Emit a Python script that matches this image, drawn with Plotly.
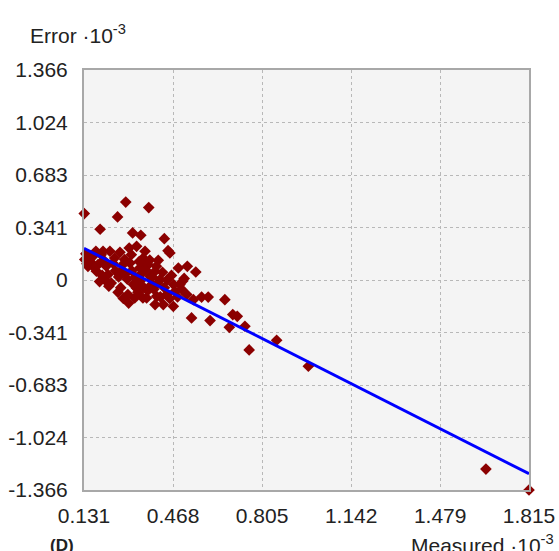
import plotly.graph_objects as go

# Measured values (x1e-3) and their errors (x1e-3)
measured = [
    0.132, 0.289, 0.376, 0.258, 0.192, 0.315, 0.346, 0.435, 0.330, 0.449,
    0.302, 0.412, 0.488, 0.522, 0.554, 0.504, 0.576, 0.601, 0.664, 0.538,
    0.608, 0.694, 0.711, 0.681, 0.740, 0.756, 0.860, 0.980, 1.652, 1.815,
    0.134, 0.146, 0.178, 0.184, 0.222, 0.234, 0.215, 0.272, 0.297, 0.329,
    0.323, 0.354, 0.342, 0.361, 0.247, 0.285, 0.310, 0.196, 0.165, 0.355,
    0.374, 0.400, 0.419, 0.456, 0.494, 0.475, 0.444, 0.387, 0.368, 0.406,
    0.520, 0.545, 0.431, 0.469, 0.400, 0.343, 0.381, 0.176, 0.203, 0.229,
    0.267, 0.362, 0.150, 0.160, 0.205, 0.215, 0.240, 0.250, 0.262, 0.275,
    0.288, 0.295, 0.305, 0.312, 0.318, 0.325, 0.335, 0.340, 0.348, 0.358,
    0.365, 0.372, 0.380, 0.390, 0.395, 0.405, 0.410, 0.420, 0.428, 0.435,
    0.445, 0.455, 0.462, 0.470, 0.485, 0.500, 0.510, 0.225, 0.200, 0.190,
    0.270, 0.280, 0.300, 0.260, 0.138, 0.142, 0.170,
]
error = [
    0.432, 0.507, 0.471, 0.410, 0.330, 0.306, 0.291, 0.269, 0.219, 0.191,
    0.208, 0.128, 0.078, 0.089, 0.052, -0.008, -0.111, -0.111, -0.128, -0.247,
    -0.264, -0.225, -0.236, -0.308, -0.301, -0.455, -0.392, -0.561, -1.230, -1.366,
    0.133, 0.089, 0.057, 0.100, 0.035, -0.020, -0.008, 0.057, -0.095, -0.052,
    -0.117, -0.117, 0.078, 0.100, 0.143, 0.133, 0.165, 0.165, 0.154, 0.143,
    0.100, 0.057, 0.003, 0.176, -0.030, -0.074, -0.095, -0.030, -0.117, -0.106,
    -0.095, -0.128, -0.160, -0.171, -0.160, -0.008, 0.024, 0.187, 0.187, 0.187,
    0.180, 0.187, 0.120, 0.110, 0.130, 0.090, 0.110, 0.060, 0.020, 0.095,
    0.040, 0.005, 0.110, 0.060, -0.030, 0.020, -0.080, 0.120, 0.040, -0.050,
    0.065, -0.070, 0.130, 0.020, -0.060, 0.090, -0.020, -0.110, 0.050, -0.050,
    0.000, -0.120, 0.030, -0.030, -0.110, -0.060, 0.010, -0.040, 0.030, -0.010,
    -0.050, -0.120, -0.150, -0.080, 0.170, 0.105, 0.080,
]

# Fitted trend line endpoints
fit_x = [0.131, 1.815]
fit_y = [0.206, -1.260]

x_ticks = [0.131, 0.468, 0.805, 1.142, 1.479, 1.815]
x_labels = ["0.131", "0.468", "0.805", "1.142", "1.479", "1.815"]
y_ticks = [1.366, 1.024, 0.683, 0.341, 0, -0.341, -0.683, -1.024, -1.366]
y_labels = ["1.366", "1.024", "0.683", "0.341", "0", "-0.341", "-0.683", "-1.024", "-1.366"]

font_family = "Liberation Sans, Arial, sans-serif"
text_color = "#222222"

fig = go.Figure()
fig.add_trace(go.Scatter(
    x=measured, y=error, mode="markers",
    marker=dict(symbol="diamond", size=9, color="#8B0000", line=dict(width=0)),
    cliponaxis=False, showlegend=False,
))
fig.add_trace(go.Scatter(
    x=fit_x, y=fit_y, mode="lines",
    line=dict(color="#0000FF", width=3),
    showlegend=False,
))

axis_common = dict(
    showline=True, mirror=True, linecolor="#a8a8a8", linewidth=2,
    showgrid=True, gridcolor="#b8b8b8", griddash="dot", gridwidth=1,
    zeroline=False, ticks="", automargin=False,
    tickfont=dict(family=font_family, size=21, color=text_color),
)

fig.update_xaxes(range=[0.131, 1.815], tickvals=x_ticks, ticktext=x_labels,
                 ticklabelstandoff=6, **axis_common)
fig.update_yaxes(range=[-1.366, 1.366], tickvals=y_ticks, ticktext=y_labels,
                 ticklabelstandoff=10, **axis_common)

fig.add_annotation(
    text="Error ·10<sup>-3</sup>", xref="paper", yref="paper",
    x=-0.125, y=1.05, xanchor="left", yanchor="bottom", showarrow=False,
    font=dict(family=font_family, size=21, color=text_color),
)
fig.add_annotation(
    text="Measured ·10<sup>-3</sup>", xref="paper", yref="paper",
    x=1.06, y=-0.094, xanchor="right", yanchor="top", showarrow=False,
    font=dict(family=font_family, size=21, color=text_color),
)
fig.add_annotation(
    text="<b>(D)</b>", xref="paper", yref="paper",
    x=-0.08, y=-0.104, xanchor="left", yanchor="top", showarrow=False,
    font=dict(family=font_family, size=17, color=text_color),
)

fig.update_layout(
    width=559, height=551,
    margin=dict(l=84, r=30, t=70, b=61),
    paper_bgcolor="white", plot_bgcolor="#f4f4f4",
)

fig.write_html("out.html")
